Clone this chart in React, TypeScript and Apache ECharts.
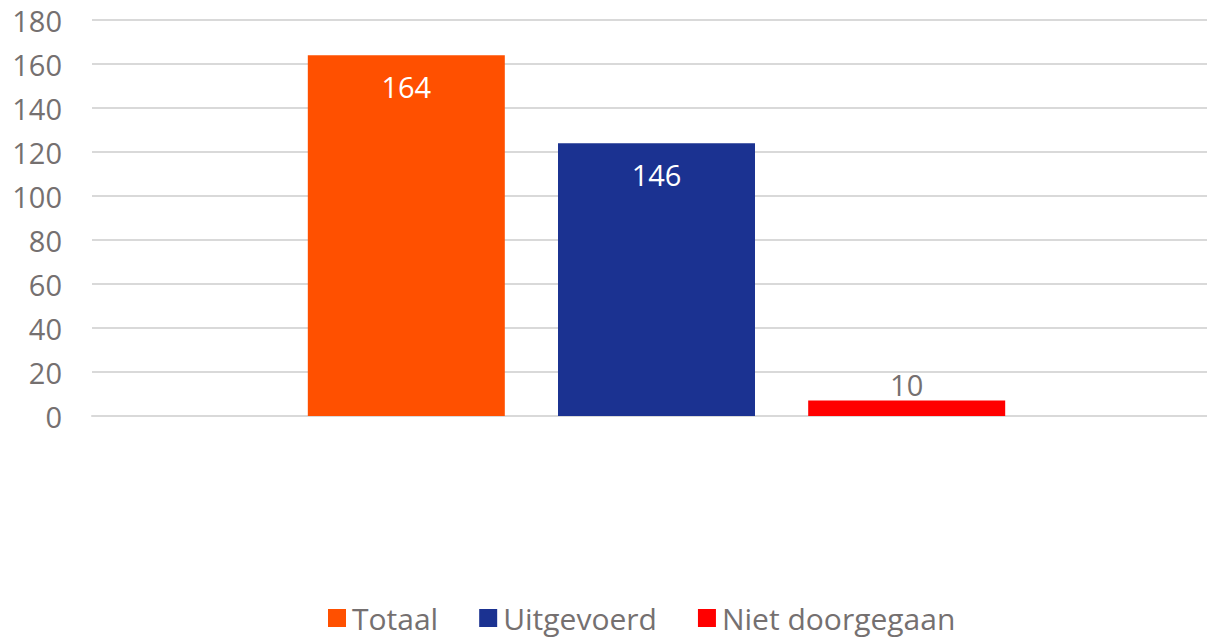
import React, { useEffect, useRef } from "react";
import * as echarts from "echarts";

const seriesNames = ["Totaal", "Uitgevoerd", "Niet doorgegaan"];
const barValues = [164, 124, 7];
const labelValues = [164, 146, 10];
const colors = ["#FF5000", "#1B3291", "#FF0000"];
const yTicks = { min: 0, max: 180, interval: 20 };

const FONT = "'Open Sans', sans-serif";
const GRAY = "#757070";

export default function App() {
  const ref = useRef<HTMLDivElement>(null);
  useEffect(() => {
    if (!ref.current) return;
    const chart = echarts.init(ref.current, undefined, { renderer: "svg" });
    chart.setOption({
      animation: false,
      grid: { left: 92, width: 1129, top: 20, bottom: 224, outerBoundsMode: "none", containLabel: false },
      legend: {
        bottom: 2,
        left: 323,
        itemWidth: 18,
        itemHeight: 18,
        itemGap: 41,
        icon: "rect",
        textStyle: { fontFamily: FONT, fontSize: 30, color: GRAY, padding: [0, 0, 0, 1] },
        data: seriesNames,
      },
      xAxis: {
        type: "category",
        data: [""],
        axisLine: { show: true, lineStyle: { color: "#d9d9d9", width: 2 } },
        axisTick: { show: false },
        axisLabel: { show: false },
      },
      yAxis: {
        type: "value",
        min: yTicks.min,
        max: yTicks.max,
        interval: yTicks.interval,
        axisLine: { show: false },
        axisTick: { show: false },
        axisLabel: { fontFamily: FONT, fontSize: 29, color: GRAY, margin: 30 },
        splitLine: { lineStyle: { color: "#d9d9d9", width: 2 } },
      },
      series: seriesNames.map((name, i) => ({
        type: "bar",
        name,
        data: [barValues[i]],
        barWidth: 197,
        barGap: "27%",
        itemStyle: { color: colors[i] },
        label: {
          show: true,
          position: i < 2 ? "insideTop" : "top",
          distance: i < 2 ? 17 : 2,
          formatter: () => String(labelValues[i]),
          fontFamily: FONT,
          fontSize: 29,
          color: i < 2 ? "#ffffff" : GRAY,
        },
      })),
    });
    return () => chart.dispose();
  }, []);
  return (
    <div
      ref={ref}
      style={{ position: "absolute", left: 0, top: 0, width: 1207, height: 640, overflow: "hidden" }}
    />
  );
}
